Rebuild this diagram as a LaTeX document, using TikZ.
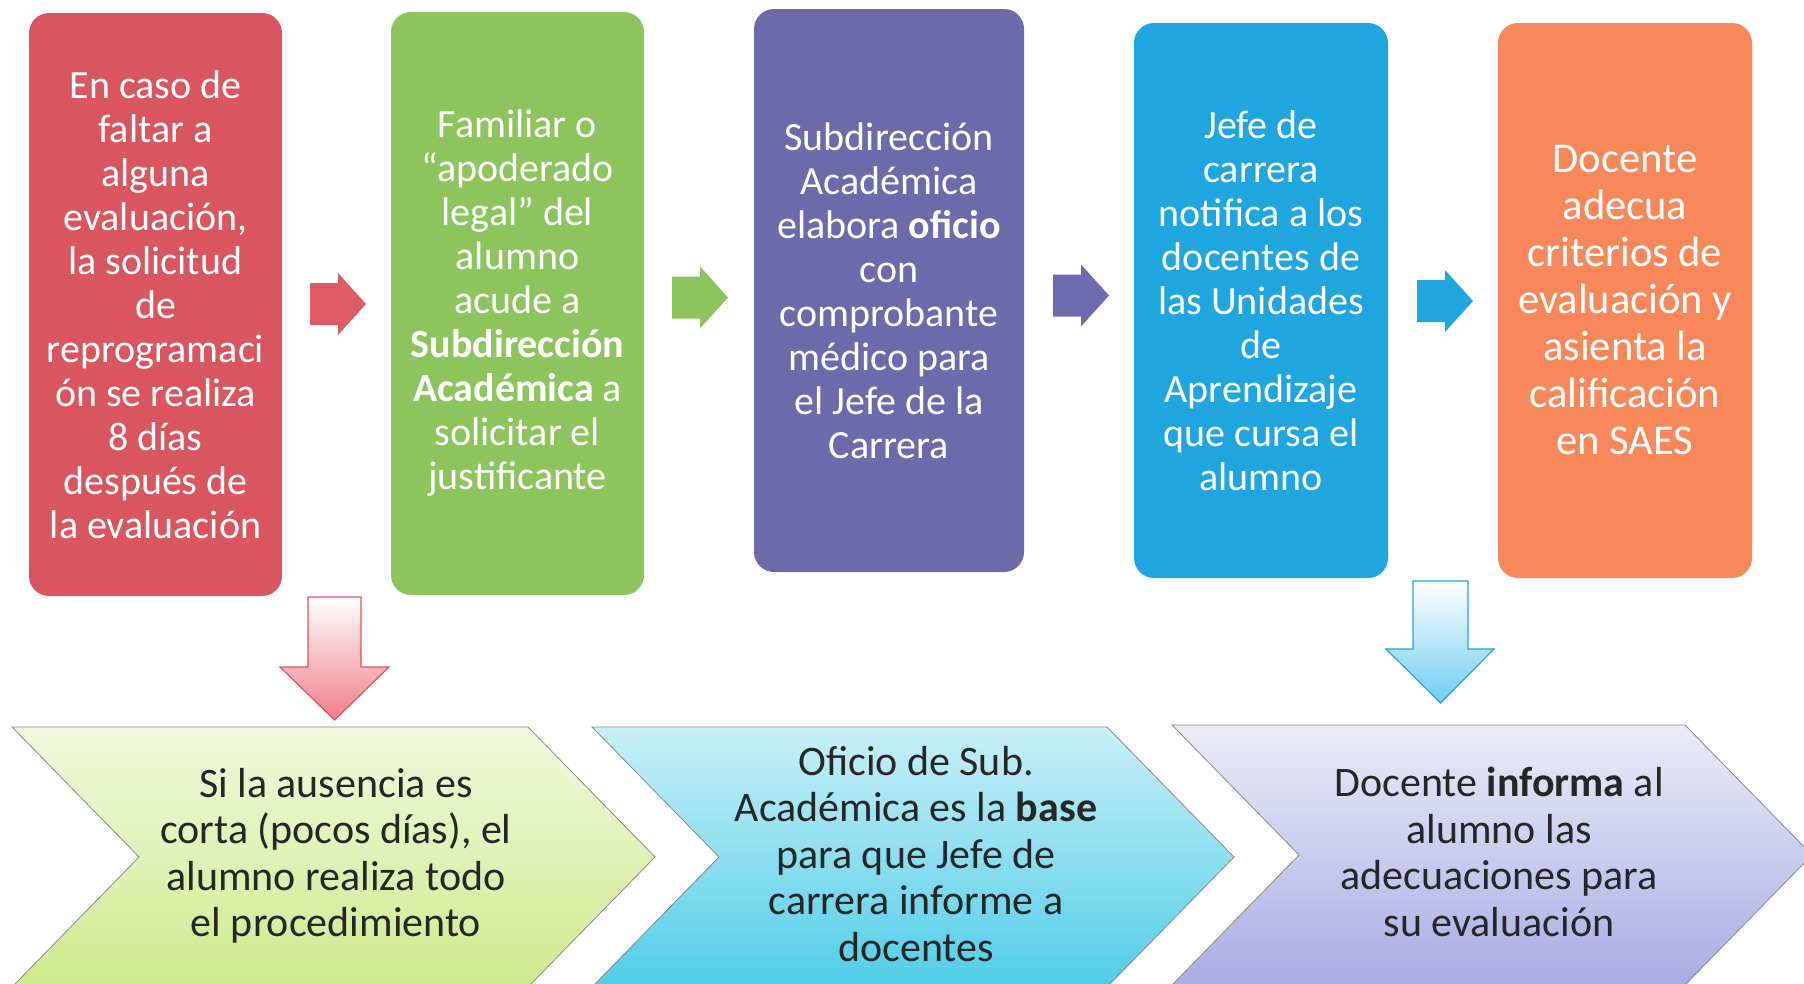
\documentclass[tikz,border=0pt]{standalone}
\usepackage{fontspec}
\setmainfont{Carlito}
\definecolor{cRed}{HTML}{D9555F}
\definecolor{cRedA}{HTML}{DE5B66}
\definecolor{cGreen}{HTML}{8CC55B}
\definecolor{cPurple}{HTML}{6B6AAA}
\definecolor{cPurpleA}{HTML}{6D6CB0}
\definecolor{cBlue}{HTML}{1FA6DF}
\definecolor{cOrange}{HTML}{F8875A}
\definecolor{cDark}{HTML}{262626}
\definecolor{cEdge}{HTML}{8A8A8A}
\newcommand{\rblock}[3]{% x0, ymid, colour
  \fill[#3] (#1,#2-21) -- (#1+28,#2-21) -- (#1+28,#2-31) -- (#1+56,#2)
    -- (#1+28,#2+31) -- (#1+28,#2+21) -- (#1,#2+21) -- cycle;}
\tikzset{
  topbox/.style={rounded corners=20pt, inner sep=0pt, align=center, text=white,
    font=\fontsize{40}{44}\selectfont},
  chev/.style={draw=cEdge, line width=0.8pt},
  chevtext/.style={align=center, text=cDark, font=\fontsize{42}{46.5}\selectfont}
}
\begin{document}
\begin{tikzpicture}[x=1pt,y=-1pt]
\useasboundingbox (0,0) rectangle (1804,983);
\fill[white] (0,0) rectangle (1804,983);

% bottom chevrons
\path[chev, top color={rgb,255:red,242;green,249;blue,222}, bottom color={rgb,255:red,205;green,235;blue,140}]
  (12,727) -- (528,727) -- (655,857) -- (528,987) -- (12,987) -- (139,857) -- cycle;
\path[chev, top color={rgb,255:red,200;green,240;blue,248}, bottom color={rgb,255:red,80;green,205;blue,232}]
  (592,727) -- (1107,727) -- (1234,857) -- (1107,987) -- (592,987) -- (719,857) -- cycle;
\path[chev, top color={rgb,255:red,236;green,236;blue,248}, bottom color={rgb,255:red,168;green,172;blue,228}]
  (1172,725) -- (1685,725) -- (1812,855) -- (1685,985) -- (1172,985) -- (1299,855) -- cycle;

\node[chevtext] (b1) at (336,856) {Si la ausencia es\\corta (pocos días), el\\alumno realiza todo\\el procedimiento};
\node[chevtext] (b2) at (916,854) {Oficio de Sub.\\Académica es la \textbf{base}\\para que Jefe de\\carrera informe a\\docentes};
\node[chevtext] (b3) at (1499,852) {Docente \textbf{informa} al\\alumno las\\adecuaciones para\\su evaluación};

% top boxes
\node[topbox, fill=cRed, minimum width=253pt, minimum height=583pt] (t1) at (155.5,304.5)
  {En caso de\\faltar a\\alguna\\evaluación,\\la solicitud\\de\\reprogramaci\\ón se realiza\\8 días\\después de\\la evaluación};
\node[topbox, fill=cGreen, minimum width=253pt, minimum height=583pt] (t2) at (517.5,303.5)
  {Familiar o\\“apoderado\\legal” del\\alumno\\acude a\\\textbf{Subdirección}\\\textbf{Académica} a\\solicitar el\\justificante};
\node[topbox, fill=cPurple, minimum width=270pt, minimum height=563pt] (t3) at (889,290.5)
  {Subdirección\\Académica\\elabora \textbf{oficio}\\con\\comprobante\\médico para\\el Jefe de la\\Carrera};
\node[topbox, fill=cBlue, minimum width=254pt, minimum height=555pt] (t4) at (1261,300.5)
  {Jefe de\\carrera\\notifica a los\\docentes de\\las Unidades\\de\\Aprendizaje\\que cursa el\\alumno};
\node[topbox, fill=cOrange, minimum width=254pt, minimum height=555pt, font=\fontsize{42.5}{47}\selectfont] (t5) at (1625,300.5)
  {Docente\\adecua\\criterios de\\evaluación y\\asienta la\\calificación\\en SAES};

% right block arrows
\rblock{310}{304}{cRedA}
\rblock{672}{297.5}{cGreen}
\rblock{1053}{295.5}{cPurpleA}
\rblock{1417}{301}{cBlue}

% down block arrows
\path[draw={rgb,255:red,230;green,80;blue,92}, line width=1.2pt, line join=miter,
  top color=white, bottom color={rgb,255:red,240;green,125;blue,135}]
  (308,597) -- (361,597) -- (361,667) -- (389,667) -- (334.5,720) -- (280,667) -- (308,667) -- cycle;
\path[draw={rgb,255:red,35;green,165;blue,222}, line width=1.2pt, line join=miter,
  top color=white, bottom color={rgb,255:red,110;green,205;blue,240}]
  (1413,581) -- (1468,581) -- (1468,649) -- (1494,649) -- (1440.5,703) -- (1386,649) -- (1413,649) -- cycle;
\end{tikzpicture}
\end{document}
